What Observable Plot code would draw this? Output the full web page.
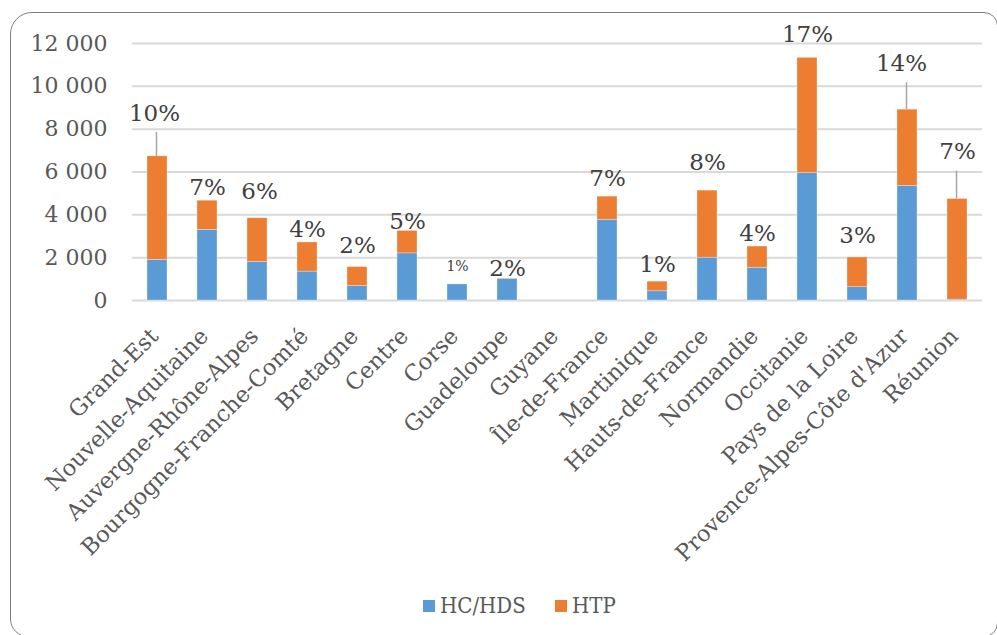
<!DOCTYPE html>
<html>
<head>
<meta charset="utf-8">
<script src="https://cdn.jsdelivr.net/npm/d3@7"></script>
<script src="https://cdn.jsdelivr.net/npm/@observablehq/plot@0.6"></script>
<style>
  html, body { margin: 0; padding: 0; background: #fff; }
  #frame { position: relative; width: 997px; height: 635px; overflow: hidden; font-family: "DejaVu Serif", serif; }
  #border { position: absolute; left: 10px; top: 12px; width: 988px; height: 625px; box-sizing: border-box;
            border: 1.6px solid #808080; border-radius: 22px 14px 14px 18px; }
  #chart { position: absolute; left: 0; top: 0; }
  #legend { position: absolute; left: 423px; top: 593px; display: flex; align-items: center;
            font-family: "DejaVu Serif", serif; font-size: 22px; color: #595959; }
  #legend .sw { width: 12px; height: 12px; display: inline-block; margin-right: 5px; }
  #legend .item { display: flex; align-items: center; margin-right: 20px; }
  #legend .txt { display: inline-block; transform: scaleX(0.9); transform-origin: left center; }
</style>
</head>
<body>
<div id="frame">
  <div id="border"></div>
  <div id="chart"></div>
  <div id="legend"></div>
</div>
<script>
// Regions and the two housing categories (stacked)
const regions = ["Grand-Est", "Nouvelle-Aquitaine", "Auvergne-Rhône-Alpes", "Bourgogne-Franche-Comté",
  "Bretagne", "Centre", "Corse", "Guadeloupe", "Guyane", "Île-de-France", "Martinique",
  "Hauts-de-France", "Normandie", "Occitanie", "Pays de la Loire", "Provence-Alpes-Côte d'Azur", "Réunion"];
const seriesNames = ["HC/HDS", "HTP"];
const hcHds = [1900, 3300, 1800, 1350, 680, 2200, 750, 1010, 0, 3770, 430, 2000, 1530, 5950, 620, 5350, 40];
const htp   = [4830, 1360, 2040, 1360, 880, 1050, 0, 20, 0, 1080, 450, 3130, 990, 5380, 1390, 3560, 4700];
// Share of the national total, in percent (no label for Guyane)
const shares = [10, 7, 6, 4, 2, 5, 1, 2, null, 7, 1, 8, 4, 17, 3, 14, 7];
const yTicks = [0, 2000, 4000, 6000, 8000, 10000, 12000];
const seriesColors = ["#5B9BD5", "#ED7D31"];

// Label placement: lift above the bar top (px), horizontal nudge (px), font size
const labelLift = [43, 13, 27, 13, 21, 9, 18, 10, 0, 18, 17, 28, 13, 23, 22, 46, 47];
const labelDx   = [-3, 0, 2, 0, 0, 0, 0, 0, 0, 0, 0, 0, 0, 0, 0, -6, 0];
const labelSize = regions.map((r, i) => (i === 6 ? 14 : 23));
const leaderMin = 40; // labels lifted further than this get a leader line

const W = 997, H = 575, marginTop = 43, plotBottom = 300, marginLeft = 132, marginRight = 15;
const valPerPx = (yTicks[yTicks.length - 1] - yTicks[0]) / (plotBottom - marginTop);

const rows = [];
regions.forEach((r, i) => {
  rows.push({region: r, series: seriesNames[0], value: hcHds[i]});
  rows.push({region: r, series: seriesNames[1], value: htp[i]});
});

const labels = regions.map((r, i) => {
  const total = hcHds[i] + htp[i];
  return {region: r, total, share: shares[i], lift: labelLift[i], dx: labelDx[i], size: labelSize[i]};
}).filter(d => d.share != null);
const leaders = labels.filter(d => d.lift > leaderMin);

const fmt = d => d3.format(",")(d).replace(/,/g, "\u00a0");

const chart = Plot.plot({
  width: W,
  height: H,
  marginTop,
  marginBottom: H - plotBottom,
  marginLeft,
  marginRight,
  style: {fontFamily: "DejaVu Serif", color: "#595959", background: "transparent", overflow: "visible"},
  x: {domain: regions, paddingInner: 0.6, paddingOuter: 0.3, label: null},
  y: {domain: [0, 12000], label: null},
  color: {domain: seriesNames, range: seriesColors},
  marks: [
    Plot.gridY(yTicks, {stroke: "#d9d9d9", strokeOpacity: 1, strokeWidth: 2}),
    Plot.axisY({ticks: yTicks, tickSize: 0, tickPadding: 25, tickFormat: fmt, fontSize: 22, label: null}),
    Plot.axisX({tickRotate: -45, tickSize: 0, tickPadding: 32, dx: -3, fontSize: 22.5, label: null}),
    Plot.barY(rows, {x: "region", y: "value", fill: "series", order: seriesNames,
      stroke: "#ffffff", strokeWidth: 0.6, strokeOpacity: 0.5}),
    Plot.ruleX(leaders, {x: "region", y1: d => d.total, y2: d => d.total + (d.lift - 19) * valPerPx,
      dx: -1, stroke: "#a6a6a6", strokeWidth: 1.5}),
    Plot.text(labels, {x: "region", y: d => d.total + d.lift * valPerPx, text: d => d.share + "%",
      fontSize: "size", fill: "#404040", lineAnchor: "middle"})
  ]
});
// horizontal nudges for individual labels
const labelNodes = chart.querySelectorAll("g[aria-label='text'] text");
labelNodes.forEach((t, i) => {
  const nudge = labels[i].dx;
  if (nudge) t.setAttribute("dx", nudge);
});
document.getElementById("chart").appendChild(chart);

const legend = document.getElementById("legend");
seriesNames.forEach((s, i) => {
  const item = document.createElement("span");
  item.className = "item";
  item.innerHTML = `<span class="sw" style="background:${seriesColors[i]}"></span><span class="txt">${s}</span>`;
  legend.appendChild(item);
});
</script>
</body>
</html>
